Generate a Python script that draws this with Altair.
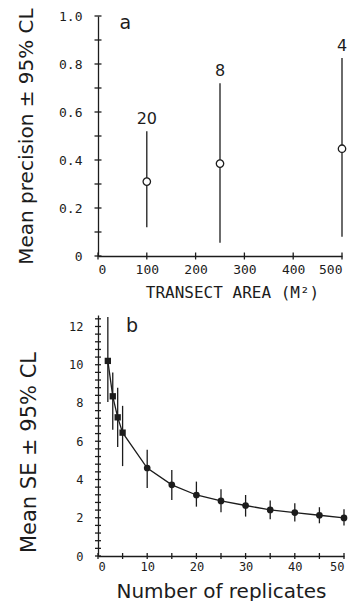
import altair as alt
import pandas as pd

# ---------------- data: panel a ----------------
area = [100, 250, 500]
prec_mean = [0.31, 0.385, 0.447]
prec_lo = [0.12, 0.055, 0.08]
prec_hi = [0.52, 0.72, 0.825]
n_reps = ["20", "8", "4"]

# ---------------- data: panel b ----------------
replicates = [2, 3, 4, 5, 10, 15, 20, 25, 30, 35, 40, 45, 50]
se_mean = [10.2, 8.35, 7.25, 6.45, 4.6, 3.72, 3.19, 2.88, 2.64, 2.41, 2.27, 2.13, 1.99]
se_lo = [8.05, 6.6, 5.7, 4.7, 3.55, 2.93, 2.58, 2.29, 2.06, 1.92, 1.8, 1.71, 1.59]
se_hi = [12.5, 9.6, 8.8, 7.85, 5.55, 4.5, 3.89, 3.49, 3.19, 2.9, 2.76, 2.55, 2.44]

# axis labels and tick positions
xlab_a = [0, 100, 200, 300, 400, 500]
ylab_a = [0, 0.2, 0.4, 0.6, 0.8, 1.0]
ytick_a = [0, 0.1, 0.2, 0.3, 0.4, 0.5, 0.6, 0.7, 0.8, 0.9, 1.0]
xlab_b = [0, 10, 20, 30, 40, 50]
xtick_b = [0, 5, 10, 15, 20, 25, 30, 35, 40, 45, 50]
ylab_b = [0, 2, 4, 6, 8, 10, 12]
ytick_b = [round(0.4 * i, 1) for i in range(32)]

panel_letters = ["a", "b"]

ink = "#1c1c1c"
mono = "DejaVu Sans Mono"
sans = "DejaVu Sans"

df_a = pd.DataFrame({"area": area, "mean": prec_mean, "lo": prec_lo, "hi": prec_hi, "n": n_reps})
df_b = pd.DataFrame({"reps": replicates, "mean": se_mean, "lo": se_lo, "hi": se_hi})

# ---------------- scales & axes ----------------
sx_a = alt.Scale(domain=[0, 500], nice=False, zero=True)
sy_a = alt.Scale(domain=[0, 1], nice=False, zero=True)
sx_b = alt.Scale(domain=[0, 50], nice=False, zero=True)
sy_b = alt.Scale(domain=[0, 12.6], nice=False, zero=True)

common = dict(grid=False, ticks=False, tickSize=0, domainColor=ink, domainWidth=1.3,
              labelColor=ink, titleColor=ink, titleFontWeight="normal")

ax_xa = alt.Axis(values=xlab_a, labelFont=mono, labelFontSize=13, labelPadding=7,
                 titleFont=mono, titleFontSize=16, titlePadding=8, titleX=134, **common)
ax_ya = alt.Axis(values=ylab_a, labelExpr="datum.value == 0 ? '0' : format(datum.value, '.1f')",
                 labelFont=mono, labelFontSize=13, labelPadding=16,
                 titleFont=sans, titleFontSize=20, titlePadding=22, **common)
ax_xb = alt.Axis(values=xlab_b, labelFont=mono, labelFontSize=12, labelPadding=5,
                 titleFont=sans, titleFontSize=20, titlePadding=9, **common)
ax_yb = alt.Axis(values=ylab_b, labelFont=mono, labelFontSize=12, labelPadding=15,
                 titleFont=sans, titleFontSize=21, titlePadding=29, titleY=137, **common)

title_xa = "TRANSECT AREA (M²)"
title_ya = "Mean precision ± 95% CL"
title_xb = "Number of replicates"
title_yb = "Mean SE ± 95% CL"


def XA(f):
    return alt.X(f, type="quantitative", scale=sx_a, axis=ax_xa, title=title_xa)


def YA(f):
    return alt.Y(f, type="quantitative", scale=sy_a, axis=ax_ya, title=title_ya)


def XB(f):
    return alt.X(f, type="quantitative", scale=sx_b, axis=ax_xb, title=title_xb)


def YB(f):
    return alt.Y(f, type="quantitative", scale=sy_b, axis=ax_yb, title=title_yb)


def yticks(vals, Y, sx, half):
    # short crossing tick marks on the y axis (at x = 0 of the data scale)
    return alt.Chart(pd.DataFrame({"t": vals})).mark_rule(
        color=ink, strokeWidth=1.3, xOffset=-half, x2Offset=half
    ).encode(y=Y("t"), x=alt.datum(0, scale=sx), x2=alt.datum(0))


def xticks(vals, X, sy, half):
    # short crossing tick marks on the x axis (at y = 0 of the data scale)
    return alt.Chart(pd.DataFrame({"t": vals})).mark_rule(
        color=ink, strokeWidth=1.3, yOffset=-half, y2Offset=half
    ).encode(x=X("t"), y=alt.datum(0, scale=sy), y2=alt.datum(0))


# ---------------- panel a ----------------
rules_a = alt.Chart(df_a).mark_rule(color=ink, strokeWidth=1.3).encode(
    x=XA("area"), y=YA("lo"), y2="hi")
pts_a = alt.Chart(df_a).mark_point(filled=True, fill="white", stroke=ink, strokeWidth=1.3,
                                   size=55, opacity=1).encode(x=XA("area"), y=YA("mean"))
nlab_a = alt.Chart(df_a).mark_text(font=sans, fontSize=16, baseline="bottom", dy=-4,
                                   color=ink).encode(x=XA("area"), y=YA("hi"), text="n")
letter_a = alt.Chart(pd.DataFrame({"x": [56], "y": [0.946], "t": [panel_letters[0]]})).mark_text(
    font=sans, fontSize=19, baseline="alphabetic", color=ink).encode(x=XA("x"), y=YA("y"), text="t")
yt_a = yticks(ytick_a, YA, sx_a, 3.5)
xt_a = xticks(xlab_a, XA, sy_a, 3.5)

panel_a = alt.layer(rules_a, pts_a, nlab_a, letter_a, yt_a, xt_a).properties(width=244, height=240)

# ---------------- panel b ----------------
rules_b = alt.Chart(df_b).mark_rule(color=ink, strokeWidth=1.3).encode(
    x=XB("reps"), y=YB("lo"), y2="hi")
line_b = alt.Chart(df_b).mark_line(color=ink, strokeWidth=1.3).encode(
    x=XB("reps"), y=YB("mean"))
sq_b = alt.Chart(df_b).transform_filter("datum.reps <= 5").mark_point(
    shape="square", filled=True, color=ink, size=40, opacity=1).encode(x=XB("reps"), y=YB("mean"))
dot_b = alt.Chart(df_b).transform_filter("datum.reps > 5").mark_point(
    shape="circle", filled=True, color=ink, size=45, opacity=1).encode(x=XB("reps"), y=YB("mean"))
letter_b = alt.Chart(pd.DataFrame({"x": [6.9], "y": [11.7], "t": [panel_letters[1]]})).mark_text(
    font=sans, fontSize=19, baseline="alphabetic", color=ink).encode(x=XB("x"), y=YB("y"), text="t")
yt_b = yticks(ytick_b, YB, sx_b, 3)
xt_b = xticks(xtick_b, XB, sy_b, 3)

panel_b = alt.layer(rules_b, line_b, sq_b, dot_b, letter_b, yt_b, xt_b).properties(width=246, height=241)

chart = alt.vconcat(panel_a, panel_b, spacing=15).properties(
    padding={"left": 16, "top": 7, "right": 0, "bottom": 0},
    background="white",
).configure_view(stroke=None)

chart.save("out.html", embed_options={"renderer": "svg", "actions": False})
